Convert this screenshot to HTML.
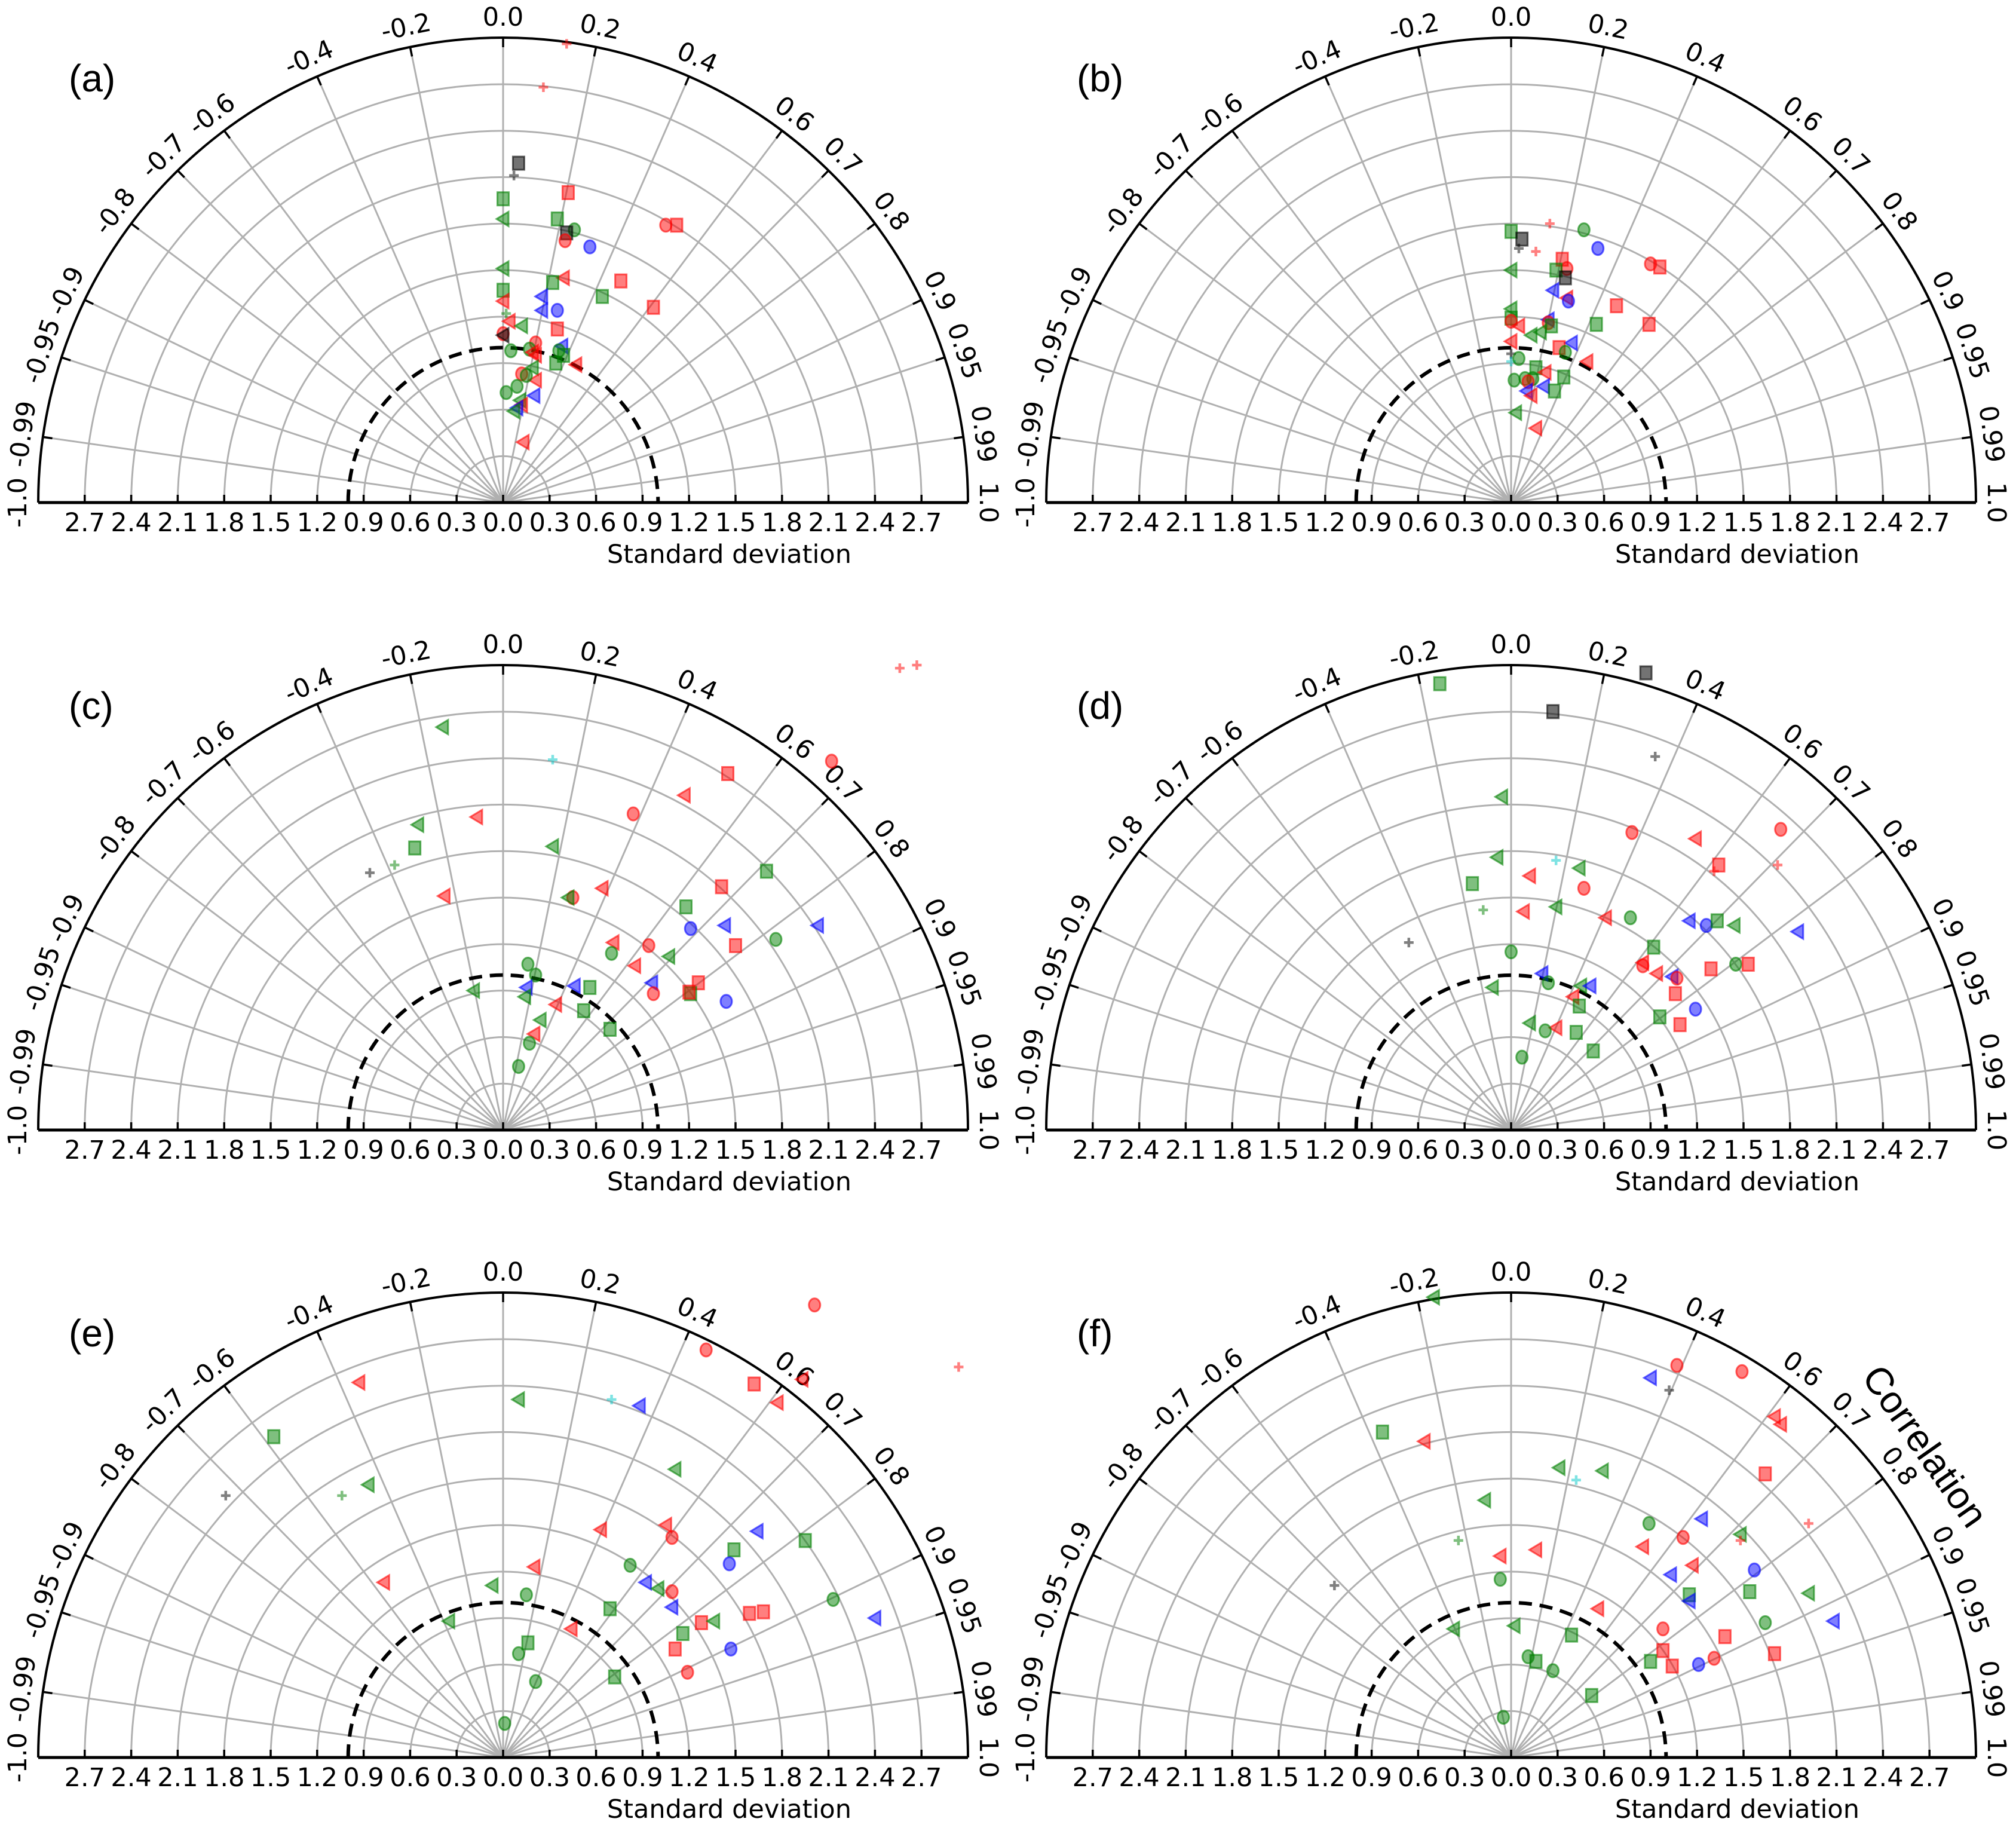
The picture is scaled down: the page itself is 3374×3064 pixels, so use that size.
<!DOCTYPE html>
<html><head><meta charset="utf-8"><style>
html,body{margin:0;padding:0;background:#fff}
svg{display:block}
text{font-family:"DejaVu Sans","Liberation Sans",sans-serif;fill:#000}
</style></head><body>
<svg id="chart" xmlns="http://www.w3.org/2000/svg" width="3374" height="3064" viewBox="0 0 3374 3064">
<rect x="0" y="0" width="3374" height="3064" fill="#fff"/>
</svg>
<script>
const corrTicks = [-1.0,-0.99,-0.95,-0.9,-0.8,-0.7,-0.6,-0.4,-0.2,0.0,0.2,0.4,0.6,0.7,0.8,0.9,0.95,0.99,1.0];
const corrLabels = ["-1.0","-0.99","-0.95","-0.9","-0.8","-0.7","-0.6","-0.4","-0.2","0.0","0.2","0.4","0.6","0.7","0.8","0.9","0.95","0.99","1.0"];
const stdTicks = [-2.7,-2.4,-2.1,-1.8,-1.5,-1.2,-0.9,-0.6,-0.3,0.0,0.3,0.6,0.9,1.2,1.5,1.8,2.1,2.4,2.7];
const stdArcs = [0.3,0.6,0.9,1.2,1.5,1.8,2.1,2.4,2.7];
const stdMax = 3.0;
const refStd = 1.0;

const a_kind = ["r+","r+","ks","k+","rs","gs","g<","gs","go","ro","rs","ks","ro","bo","g<","r<","gs","rs","gs","gs","r<","b<","b<","bo","rs","g+","r<","g<","rs","ro","k<","ro","go","go","r<","b<","go","gs","gs","r<","r<","g<","ro","r<","go","go","go","b<","g<","r<","b<","g<","r<"];
const a_x = [0.41,0.26,0.10,0.07,0.42,0,0,0.35,0.46,1.05,1.12,0.41,0.40,0.56,0,0.39,0.32,0.76,0.64,0,0,0.25,0.25,0.35,0.97,0.02,0.04,0.12,0.35,0,0,0.21,0.05,0.17,0.19,0.38,0.36,0.39,0.34,0.47,0.21,0.19,0.12,0.21,0.15,0.09,0.02,0.20,0.11,0.12,0.09,0.07,0.13];
const a_y = [2.96,2.68,2.19,2.11,2.00,1.96,1.83,1.83,1.76,1.79,1.79,1.74,1.69,1.65,1.51,1.45,1.42,1.43,1.33,1.37,1.30,1.33,1.24,1.24,1.26,1.22,1.17,1.14,1.12,1.09,1.08,1.03,0.98,0.99,0.97,1.01,0.98,0.95,0.90,0.89,0.95,0.87,0.83,0.79,0.82,0.75,0.71,0.69,0.66,0.63,0.61,0.59,0.39];

const b_kind = ["r+","go","gs","ks","k+","r+","bo","ro","rs","rs","ro","gs","g<","ks","b<","r<","bo","rs","g<","gs","ro","r<","b<","ro","gs","g<","g<","gs","rs","r<","b<","rs","go","k+","c+","go","r<","gs","r<","gs","go","go","go","ro","b<","b<","gs","r<","g<","r<"];
const b_x = [0.25,0.47,0,0.07,0.05,0.16,0.56,0.90,0.96,0.33,0.36,0.29,0,0.35,0.27,0.36,0.37,0.68,0,0,0,0.05,0.24,0.24,0.26,0.13,0.19,0.55,0.89,0,0.39,0.31,0.35,0,0,0.05,0.49,0.16,0.22,0.34,0.02,0.09,0.14,0.11,0.21,0.10,0.28,0.13,0.03,0.16];
const b_y = [1.80,1.76,1.75,1.70,1.64,1.62,1.64,1.54,1.52,1.57,1.51,1.50,1.50,1.45,1.37,1.32,1.30,1.27,1.25,1.19,1.17,1.14,1.18,1.16,1.14,1.08,1.10,1.15,1.15,1.04,1.03,1.00,0.97,0.96,0.91,0.93,0.91,0.87,0.84,0.81,0.79,0.80,0.80,0.78,0.75,0.72,0.72,0.69,0.58,0.48];

const c_kind = ["r+","r+","g<","c+","ro","rs","r<","r<","ro","g<","gs","g<","g+","k+","gs","rs","r<","r<","ro","g<","gs","bo","b<","b<","go","rs","r<","ro","go","g<","r<","go","go","b<","rs","b<","b<","gs","g<","ro","gs","rs","bo","g<","r<","gs","g<","gs","r<","go","go"];
const c_x = [2.56,2.67,-0.39,0.32,2.12,1.45,1.17,-0.17,0.84,-0.55,-0.57,0.32,-0.70,-0.86,1.70,1.41,0.64,-0.38,0.45,0.42,1.18,1.21,1.43,2.03,1.76,1.50,0.71,0.94,0.70,1.07,0.85,0.16,0.21,0.96,1.26,0.15,0.46,0.56,-0.19,0.97,1.21,1.20,1.44,0.14,0.34,0.52,0.24,0.69,0.20,0.17,0.10];
const c_y = [2.98,3.00,2.60,2.39,2.38,2.30,2.16,2.02,2.04,1.97,1.82,1.83,1.71,1.66,1.67,1.57,1.56,1.51,1.50,1.50,1.44,1.30,1.32,1.32,1.23,1.19,1.21,1.19,1.14,1.12,1.06,1.07,1.00,0.95,0.95,0.92,0.93,0.92,0.90,0.88,0.88,0.89,0.83,0.86,0.81,0.77,0.71,0.65,0.62,0.56,0.41];

const d_kind = ["gs","ks","ks","k+","g<","ro","ro","r<","g<","c+","g<","rs","r+","r+","r<","gs","ro","g+","r<","g<","r<","go","b<","bo","gs","g<","b<","k+","go","gs","r<","ro","go","rs","rs","r<","b<","ro","b<","go","g<","b<","g<","r<","rs","gs","bo","gs","rs","g<","r<","go","gs","gs","go"];
const d_x = [-0.46,0.87,0.27,0.93,-0.06,0.78,1.74,1.19,-0.09,0.29,0.44,1.34,1.31,1.72,0.12,-0.25,0.47,-0.18,0.08,0.29,0.61,0.77,1.15,1.26,1.33,1.44,1.85,-0.66,0,0.92,0.85,0.85,1.45,1.53,1.29,0.94,1.04,1.07,0.20,0.24,0.45,0.51,-0.12,0.40,1.06,0.44,1.19,0.96,1.09,0.12,0.29,0.22,0.42,0.53,0.07];
const d_y = [2.88,2.95,2.70,2.41,2.15,1.92,1.94,1.88,1.76,1.74,1.69,1.71,1.67,1.71,1.64,1.59,1.56,1.42,1.41,1.44,1.37,1.37,1.35,1.32,1.35,1.32,1.28,1.21,1.15,1.18,1.08,1.06,1.07,1.07,1.04,1.01,0.99,0.98,1.01,0.95,0.93,0.93,0.92,0.86,0.88,0.80,0.78,0.73,0.68,0.69,0.66,0.64,0.63,0.51,0.47];

const e_kind = ["ro","r+","ro","rs","r<","r<","r<","g<","c+","b<","gs","g<","g<","g+","k+","r<","r<","ro","b<","gs","gs","bo","r<","go","r<","g<","b<","g<","ro","go","go","b<","gs","rs","rs","b<","g<","rs","g<","r<","gs","rs","bo","gs","go","ro","gs","go","go"];
const e_x = [2.01,2.94,1.31,1.62,1.93,1.77,-0.93,0.10,0.70,0.88,-1.48,1.11,-0.87,-1.04,-1.79,0.63,1.05,1.09,1.64,1.95,1.49,1.46,0.20,0.82,-0.77,-0.07,0.92,1.00,1.09,2.13,0.15,1.09,0.69,1.59,1.68,2.40,-0.35,1.28,1.36,0.44,1.16,1.11,1.47,0.16,0.10,1.19,0.72,0.21,0.01];
const e_y = [2.92,2.52,2.63,2.41,2.44,2.29,2.42,2.31,2.31,2.27,2.07,1.86,1.76,1.69,1.69,1.47,1.50,1.42,1.46,1.40,1.34,1.25,1.23,1.24,1.13,1.11,1.13,1.09,1.07,1.02,1.05,0.97,0.96,0.93,0.94,0.90,0.88,0.87,0.88,0.83,0.80,0.70,0.70,0.74,0.67,0.55,0.52,0.49,0.22];

const f_kind = ["g<","ro","ro","b<","k+","r<","r<","gs","r<","rs","g<","g<","c+","g<","go","b<","r+","ro","g<","r+","g+","r<","r<","r<","r<","b<","bo","go","k+","gs","g<","gs","b<","r<","b<","go","g<","g<","ro","gs","rs","rs","rs","go","gs","ro","bo","rs","gs","go","gs","go"];
const f_x = [-0.50,1.07,1.49,0.90,1.02,1.70,1.74,-0.83,-0.56,1.64,0.31,0.59,0.42,-0.17,0.89,1.23,1.92,1.11,1.48,1.48,-0.34,0.85,0.16,-0.07,1.17,1.03,1.57,-0.07,-1.14,1.54,1.92,1.15,1.15,0.56,2.08,1.64,-0.37,0.02,0.98,0.39,1.38,0.98,1.70,0.11,0.16,1.31,1.21,1.04,0.90,0.27,0.52,-0.05];
const f_y = [2.97,2.53,2.49,2.45,2.37,2.20,2.15,2.10,2.04,1.83,1.87,1.85,1.79,1.66,1.51,1.54,1.51,1.42,1.44,1.40,1.40,1.36,1.34,1.30,1.24,1.18,1.21,1.15,1.11,1.07,1.06,1.05,1.01,0.96,0.88,0.87,0.83,0.85,0.83,0.79,0.78,0.69,0.67,0.65,0.62,0.64,0.60,0.59,0.62,0.56,0.40,0.26];

const panelLabels = ["(a)","(b)","(c)","(d)","(e)","(f)"];
const panelKinds = [a_kind,b_kind,c_kind,d_kind,e_kind,f_kind];
const panelX = [a_x,b_x,c_x,d_x,e_x,f_x];
const panelY = [a_y,b_y,c_y,d_y,e_y,f_y];

const NS = "http://www.w3.org/2000/svg";
const svg = document.getElementById("chart");
const R = 778;
const U = R / stdMax;
const centersX = [842, 2529];
const centersY = [841, 1891, 2941];
const COLORS = {r:[255,0,0], g:[0,128,0], b:[0,0,255], k:[0,0,0], c:[0,200,200]};

function mk(tag, attrs, parent) {
  const el = document.createElementNS(NS, tag);
  for (const k in attrs) el.setAttribute(k, attrs[k]);
  (parent || svg).appendChild(el);
  return el;
}
function rgba(c, a) { return "rgba(" + c[0] + "," + c[1] + "," + c[2] + "," + a + ")"; }

function drawPanel(idx) {
  const cx = centersX[idx % 2];
  const cy = centersY[Math.floor(idx / 2)];
  const sx = v => cx + v * U;
  const sy = v => cy - v * U;
  const g = mk("g", {});
  
  

  // std arcs
  stdArcs.forEach(s => {
    const p = mk("path", {d: "M" + sx(-s) + "," + cy + " A" + (s*U) + "," + (s*U) + " 0 0 1 " + sx(s) + "," + cy, fill: "none", stroke: "#b0b0b0", "stroke-width": 3}, g);
    
    
  });
  // radial lines
  corrTicks.forEach(r => {
    const th = Math.acos(r);
    const ln = mk("line", {x1: cx, y1: cy, x2: cx + R*Math.cos(th), y2: cy - R*Math.sin(th), stroke: "#b0b0b0", "stroke-width": 3}, g);
    
    
    const tk = mk("line", {x1: cx + (R-16)*Math.cos(th), y1: cy - (R-16)*Math.sin(th), x2: cx + R*Math.cos(th), y2: cy - R*Math.sin(th), stroke: "#000", "stroke-width": 3.5}, g);
    
    
  });
  // ref dashed circle
  const ref = mk("path", {d: "M" + sx(-refStd) + "," + cy + " A" + (refStd*U) + "," + (refStd*U) + " 0 0 1 " + sx(refStd) + "," + cy, fill: "none", stroke: "#000", "stroke-width": 6, "stroke-dasharray": "22,13"}, g);
  
  
  // outer arc
  const outer = mk("path", {d: "M" + sx(-stdMax) + "," + cy + " A" + R + "," + R + " 0 0 1 " + sx(stdMax) + "," + cy, fill: "none", stroke: "#000", "stroke-width": 4}, g);
  
  
  // baseline
  const base = mk("line", {x1: sx(-stdMax), y1: cy, x2: sx(stdMax), y2: cy, stroke: "#000", "stroke-width": 5}, g);
  
  
  stdTicks.forEach(s => {
    const t = mk("line", {x1: sx(s), y1: cy, x2: sx(s), y2: cy - 13, stroke: "#000", "stroke-width": 3.5}, g);
    
    
    const tx = mk("text", {x: sx(s), y: cy + 48, "font-size": 43, "text-anchor": "middle"}, g);
    tx.textContent = Math.abs(s).toFixed(1);
    
    
  });
  // correlation labels
  corrTicks.forEach((r, i) => {
    const th = Math.acos(r);
    const rr = R + 34;
    const x = cx + rr*Math.cos(th), y = cy - rr*Math.sin(th);
    const rot = 90 - th*180/Math.PI;
    const tx = mk("text", {x: x, y: y, "font-size": 43, "text-anchor": "middle", "dominant-baseline": "central", transform: "rotate(" + rot + " " + x + " " + y + ")"}, g);
    tx.textContent = corrLabels[i];
    
    
  });
  // axis title
  const at = mk("text", {x: cx + 583, y: cy + 101, "font-size": 43, "text-anchor": "end"}, g);
  at.textContent = "Standard deviation";
  
  
  // panel label
  const pl = mk("text", {x: cx - 727, y: cy - 688, "font-size": 64, style: "font-family:'Liberation Sans',sans-serif"}, g);
  pl.textContent = panelLabels[idx];
  
  

  // points
  const kinds = panelKinds[idx], xs = panelX[idx], ys = panelY[idx];
  for (let i = 0; i < kinds.length; i++) {
    const col = COLORS[kinds[i][0]];
    const shape = kinds[i][1];
    const px = sx(xs[i]), py = sy(ys[i]);
    const fa = kinds[i][0] === 'k' ? 0.55 : 0.5;
    const fill = rgba(col, fa), strk = rgba(col, 0.6);
    let el;
    if (shape === 'o') {
      el = mk("ellipse", {cx: px, cy: py, rx: 9.5, ry: 11, fill: fill, stroke: strk, "stroke-width": 3}, g);
    } else if (shape === 's') {
      el = mk("rect", {x: px - 9.5, y: py - 11, width: 19, height: 22, fill: fill, stroke: strk, "stroke-width": 3}, g);
    } else if (shape === '<') {
      el = mk("polygon", {points: (px-11) + "," + py + " " + (px+9) + "," + (py-12) + " " + (px+9) + "," + (py+12), fill: fill, stroke: strk, "stroke-width": 3}, g);
    } else {
      el = mk("path", {d: "M" + (px-8) + "," + py + "H" + (px+8) + "M" + px + "," + (py-8) + "V" + (py+8), stroke: rgba(col, 0.5), "stroke-width": 4.5, fill: "none"}, g);
    }
    
    
  }
}
for (let i = 0; i < 6; i++) drawPanel(i);

const ct = mk("text", {x: 3222, y: 2420, "font-size": 64, "text-anchor": "middle", "dominant-baseline": "central", transform: "rotate(55 3222 2420)", style: "font-family:'Liberation Sans',sans-serif"});
ct.textContent = "Correlation";


</script>
</body></html>
